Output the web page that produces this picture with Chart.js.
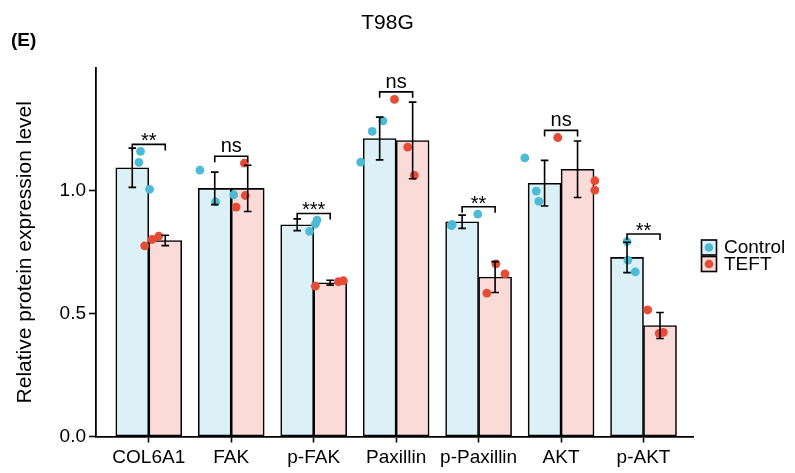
<!DOCTYPE html>
<html>
<head>
<meta charset="utf-8">
<script src="https://cdn.jsdelivr.net/npm/chart.js@4"></script>
<style>
  html, body { margin: 0; padding: 0; background: #fff; }
  #wrap { width: 795px; height: 473px; position: relative; }
</style>
</head>
<body>
<div id="wrap"><canvas id="chart"></canvas></div>
<script>
// data
const categories = ["COL6A1", "FAK", "p-FAK", "Paxillin", "p-Paxillin", "AKT", "p-AKT"];
const controlMean = [1.094, 1.010, 0.862, 1.213, 0.874, 1.031, 0.729];
const controlSd   = [0.080, 0.066, 0.024, 0.087, 0.027, 0.093, 0.062];
const teftMean    = [0.798, 1.010, 0.626, 1.205, 0.649, 1.088, 0.452];
const teftSd      = [0.021, 0.094, 0.010, 0.156, 0.063, 0.115, 0.053];

// individual replicates and their horizontal jitter (category units)
const controlPoints = [[1.161, 1.116, 1.006], [1.084, 0.955, 0.984], [0.835, 0.865, 0.881], [1.117, 1.242, 1.285], [0.858, 0.863, 0.905], [1.134, 0.999, 0.957], [0.793, 0.718, 0.670]];
const controlJitter = [[-0.10, -0.12, 0.01], [-0.38, -0.19, 0.03], [-0.05, 0.02, 0.04], [-0.43, -0.29, -0.16], [-0.33, -0.32, -0.01], [-0.44, -0.30, -0.27], [-0.20, -0.19, -0.10]];
const teftPoints = [[0.776, 0.802, 0.816], [1.113, 0.981, 0.934], [0.612, 0.630, 0.634], [1.372, 1.178, 1.063], [0.703, 0.662, 0.584], [1.217, 1.041, 1.003], [0.515, 0.420, 0.424]];
const teftJitter = [[-0.05, 0.04, 0.12], [0.16, 0.17, 0.06], [0.02, 0.30, 0.36], [-0.02, 0.14, 0.22], [0.21, 0.32, 0.10], [-0.04, 0.41, 0.41], [0.05, 0.19, 0.24]];

// significance brackets
const sigLabels  = ["**", "ns", "***", "ns", "**", "ns", "**"];
const sigHeights = [1.189, 1.141, 0.908, 1.403, 0.935, 1.246, 0.824];

const yTicks = [0, 0.5, 1.0];
const seriesNames = ["Control", "TEFT"];

const FONT = "'Liberation Sans', Arial, sans-serif";
const BLUE = "#4DBBD5";
const RED = "#E64B35";
const BLUE_FILL = "#DBF1F7";
const RED_FILL = "#FADBD7";
const DODGE = 0.2;

const barData = (means, shift) => means.map((v, i) => ({ x: i + 1 + shift, y: v }));
const pointData = (pts, jit) => pts.flatMap((arr, i) => arr.map((v, k) => ({ x: i + 1 + jit[i][k], y: v })));

// error bars, brackets, title, legend
const decorations = {
  id: "decorations",
  afterDatasetsDraw(chart) {
    const { ctx, scales: { x, y } } = chart;
    ctx.save();
    ctx.strokeStyle = "#000";
    ctx.lineWidth = 1.6;

    // error bars
    const groups = [[controlMean, controlSd, -DODGE], [teftMean, teftSd, DODGE]];
    groups.forEach(([means, sds, shift]) => {
      means.forEach((m, i) => {
        const px = x.getPixelForValue(i + 1 + shift);
        const top = y.getPixelForValue(m + sds[i]);
        const bot = y.getPixelForValue(m - sds[i]);
        ctx.beginPath();
        ctx.moveTo(px, top); ctx.lineTo(px, bot);
        ctx.moveTo(px - 3.8, top); ctx.lineTo(px + 3.8, top);
        ctx.moveTo(px - 3.8, bot); ctx.lineTo(px + 3.8, bot);
        ctx.stroke();
      });
    });

    // significance brackets
    ctx.fillStyle = "#000";
    ctx.textAlign = "center";
    ctx.textBaseline = "alphabetic";
    sigHeights.forEach((h, i) => {
      const x0 = x.getPixelForValue(i + 1 - DODGE);
      const x1 = x.getPixelForValue(i + 1 + DODGE);
      const py = y.getPixelForValue(h);
      ctx.beginPath();
      ctx.moveTo(x0, py + 6); ctx.lineTo(x0, py); ctx.lineTo(x1, py); ctx.lineTo(x1, py + 6);
      ctx.stroke();
      ctx.font = "20px " + FONT;
      ctx.fillText(sigLabels[i], (x0 + x1) / 2, sigLabels[i] === "ns" ? py - 4 : py + 3);
    });
    ctx.restore();
  },
  afterDraw(chart) {
    const { ctx } = chart;
    ctx.save();
    ctx.fillStyle = "#000";
    ctx.textBaseline = "middle";
    ctx.textAlign = "center";
    ctx.font = "21px " + FONT;
    ctx.fillText("T98G", 387.5, 23);
    ctx.textAlign = "left";
    ctx.font = "bold 19px " + FONT;
    ctx.fillText("(E)", 11, 41);

    // legend
    const fills = [BLUE_FILL, RED_FILL];
    const dots = [BLUE, RED];
    seriesNames.forEach((name, i) => {
      const bx = 701.5, by = 240 + i * 16.5;
      ctx.fillStyle = fills[i];
      ctx.fillRect(bx, by, 15, 15);
      ctx.strokeStyle = "#000";
      ctx.lineWidth = 1.6;
      ctx.strokeRect(bx, by, 15, 15);
      ctx.fillStyle = dots[i];
      ctx.beginPath();
      ctx.arc(bx + 7.5, by + 7.5, 4.3, 0, Math.PI * 2);
      ctx.fill();
      ctx.fillStyle = "#000";
      ctx.font = "19px " + FONT;
      ctx.fillText(name, 724, by + 8);
    });
    ctx.restore();
  }
};

const ctx = document.getElementById("chart");
new Chart(ctx, {
  type: "bar",
  data: {
    datasets: [
      { type: "scatter", label: "Control pts", data: pointData(controlPoints, controlJitter), backgroundColor: BLUE, borderWidth: 0, pointRadius: 4.4, order: 1 },
      { type: "scatter", label: "TEFT pts", data: pointData(teftPoints, teftJitter), backgroundColor: RED, borderWidth: 0, pointRadius: 4.4, order: 1 },
      { label: seriesNames[0], data: barData(controlMean, -DODGE), backgroundColor: BLUE_FILL, borderColor: "#000", borderWidth: 1.6, borderSkipped: false, grouped: false, categoryPercentage: 1, barPercentage: 1, order: 2 },
      { label: seriesNames[1], data: barData(teftMean, DODGE), backgroundColor: RED_FILL, borderColor: "#000", borderWidth: 1.6, borderSkipped: false, grouped: false, categoryPercentage: 1, barPercentage: 1, order: 2 }
    ]
  },
  options: {
    responsive: true,
    maintainAspectRatio: false,
    animation: false,
    layout: { padding: { left: 0, right: 102, top: 68, bottom: 0 } },
    plugins: {
      legend: { display: false },
      tooltip: { enabled: false },
      title: { display: false }
    },
    scales: {
      x: {
        type: "linear",
        min: 0.36,
        max: 7.6,
        offset: false,
        afterBuildTicks: s => { s.ticks = categories.map((c, i) => ({ value: i + 1 })); },
        afterFit: s => { s.height = 36.5; },
        ticks: {
          color: "#000",
          font: { family: FONT, size: 19 },
          padding: 4,
          maxRotation: 0,
          autoSkip: false,
          callback: v => categories[v - 1]
        },
        grid: { offset: false, drawOnChartArea: false, color: "#000", tickLength: 6, tickWidth: 1.6 },
        border: { display: true, color: "#000", width: 1.8 }
      },
      y: {
        min: 0,
        max: 1.5,
        afterBuildTicks: s => { s.ticks = yTicks.map(v => ({ value: v })); },
        afterFit: s => { s.width = 96; },
        ticks: {
          color: "#000",
          font: { family: FONT, size: 19 },
          padding: 3,
          callback: v => v.toFixed(1)
        },
        grid: { drawOnChartArea: false, color: "#000", tickLength: 7, tickWidth: 1.6 },
        border: { display: true, color: "#000", width: 1.8 },
        title: {
          display: true,
          text: "Relative protein expression level",
          color: "#000",
          font: { family: FONT, size: 21 },
          padding: { top: 13, bottom: 0 }
        }
      }
    }
  },
  plugins: [decorations]
});
</script>
</body>
</html>
